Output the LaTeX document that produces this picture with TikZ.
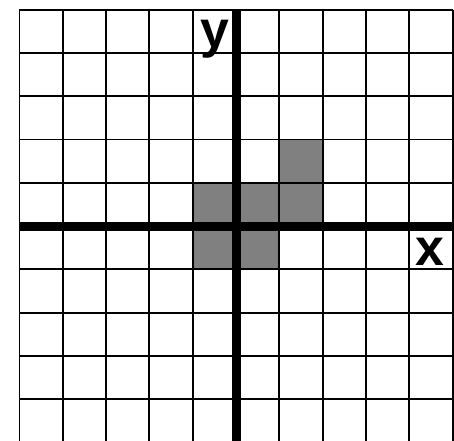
\documentclass[tikz,border=0pt]{standalone}
\usepackage{fontspec}
\setmainfont{Liberation Sans}

\tikzset{
	cell/.style={fill=gray},
	gridline/.style={line width=1.3pt},
	axis/.style={line width=6pt},
	axislabel/.style={anchor=base, inner sep=0pt, font=\bfseries\fontsize{34}{34}\selectfont}
}

\begin{document}
\begin{tikzpicture}
	\useasboundingbox (-5.45,-4.94) rectangle (5.03,5.22);

	% shaded cells
	\foreach \cx/\cy in {-1/0, 0/0, 1/0, 1/1, -1/-1, 0/-1}
		\fill[cell] (\cx,\cy) rectangle ++(1,1);

	% grid
	\draw[gridline] (-5,-5) grid (5,5);

	% axes
	\draw[axis] (-5,0) -- (5,0);
	\draw[axis] (0,-5) -- (0,5);

	% labels
	\node[axislabel] (ylab) at (-0.48,4.13) {y};
	\node[axislabel] (xlab) at (4.48,-0.90) {x};
\end{tikzpicture}
\end{document}
